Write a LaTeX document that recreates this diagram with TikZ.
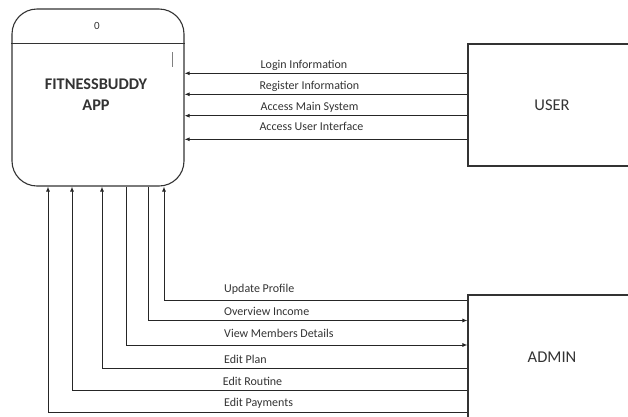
\documentclass[tikz,border=0pt]{standalone}
\usepackage{fontspec}
\setmainfont{Carlito}
\usetikzlibrary{arrows.meta}
\begin{document}
\begin{tikzpicture}[x=1pt,y=-1pt,
  flow/.style={line width=0.9pt,draw=black!85,-{Latex[length=5pt,width=4pt]}},
  lbl/.style={anchor=west,inner sep=0pt,font=\fontsize{12}{14}\selectfont,text=black!80},
  ent/.style={draw=black!80,line width=1.1pt,inner sep=0pt},
  big/.style={font=\fontsize{16.5}{19}\selectfont,text=black!80}]
\clip (0,0) rectangle (628,416);
\useasboundingbox (0,0) rectangle (628,416);
% process
\node[ent,rounded corners=25pt,minimum width=172pt,minimum height=177pt] (app) at (98,97.5) {};
\draw[line width=1pt,black!80] (app.west |- 0,43.5) coordinate (dl) -- (app.east |- 0,43.5) coordinate (dr);
\node[font=\fontsize{11}{12}\selectfont,text=black!80] (pid) at (97,26) {0};
\node[font=\bfseries\fontsize{16.3}{21}\selectfont,text=black!80,align=center] (title) at (96,95) {FITNESSBUDDY\\APP};
\coordinate (c1) at (172,52);
\coordinate (c2) at (172,67);
\draw[line width=0.6pt,black!50] (c1) -- (c2);
% entities
\node[ent,minimum width=168pt,minimum height=122pt,big] (user) at (552,105) {USER};
\node[ent,minimum width=168pt,minimum height=125pt,big] (admin) at (552,357.5) {ADMIN};
% user flows
\draw[flow] (user.west |- 0,73.3) -- (app.east |- 0,73.3);
\draw[flow] (user.west |- 0,94.3) -- (app.east |- 0,94.3);
\draw[flow] (user.west |- 0,115.7) -- (app.east |- 0,115.7);
\draw[flow] (user.west |- 0,139.3) -- (app.east |- 0,139.3);
\node[lbl] (l1) at (260.5,65) {Login Information};
\node[lbl] (l2) at (259.3,86) {Register Information};
\node[lbl] (l3) at (260.5,107) {Access Main System};
\node[lbl] (l4) at (259.3,126.5) {Access User Interface};
% admin flows
\draw[flow] (admin.west |- 0,300) -| (app.south -| 164,0);
\draw[flow] (app.south -| 148,0) |- (admin.west |- 0,320.5);
\draw[flow] (app.south -| 126,0) |- (admin.west |- 0,345);
\draw[flow] (admin.west |- 0,368.3) -| (app.south -| 102,0);
\draw[flow] (admin.west |- 0,390.5) -| (app.south -| 72,0);
\draw[flow] (admin.west |- 0,412) -| (app.south -| 48,0);
\node[lbl] (a1) at (224,289.5) {Update Profile};
\node[lbl] (a2) at (224,311) {Overview Income};
\node[lbl] (a3) at (224,333.5) {View Members Details};
\node[lbl] (a4) at (224,359.5) {Edit Plan};
\node[lbl] (a5) at (222.7,381) {Edit Routine};
\node[lbl] (a6) at (224,403.5) {Edit Payments};
\end{tikzpicture}
\end{document}
